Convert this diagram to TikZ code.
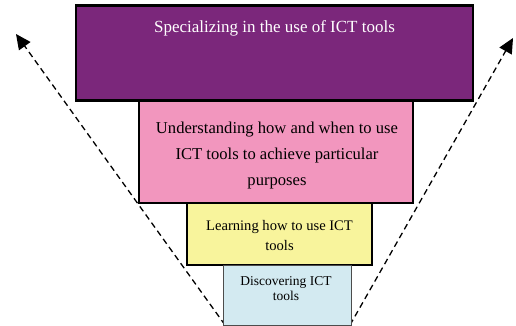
\documentclass[tikz,border=0pt]{standalone}
\usepackage{fontspec}
\setmainfont{Liberation Serif}
\usetikzlibrary{arrows.meta,positioning}

\definecolor{ictpurple}{HTML}{7B277B}
\definecolor{ictpink}{HTML}{F296BE}
\definecolor{ictyellow}{HTML}{F8F49C}
\definecolor{ictblue}{HTML}{D3EAF1}

\tikzset{
  level/.style={draw=black,line width=2.5pt,inner sep=0pt},
  leveltext/.style={align=center,inner sep=0pt},
  spread/.style={dashed,line width=1.3pt,dash pattern=on 6pt off 4pt,
    -{Triangle[length=15pt,width=14pt]}}
}

\begin{document}
\begin{tikzpicture}[x=1pt,y=-1pt]
    \useasboundingbox (0,0) rectangle (516,326);

    %% spreading arrows
    \coordinate (lb) at (225,325);
    \coordinate (lt) at (16,34);
    \coordinate (rb) at (350,325);
    \coordinate (rt) at (513,38);
    \draw[spread] (lb) -- (lt);
    \draw[spread] (rb) -- (rt);

    %% levels
    \node[level,fill=ictpurple,minimum width=397pt,minimum height=95pt] (spec) at (274.5,53) {};
    \node[leveltext,text=white,font=\fontsize{17}{20}\selectfont] (spectext) at (274.5,28)
        {Specializing in the use of ICT tools};
    \node[level,fill=ictpink,minimum width=274pt,minimum height=102pt] (under) at (276,152) {};
    \node[leveltext,font=\fontsize{16.6}{26}\selectfont] (undertext) at (277,156)
        {Understanding how and when to use\\ICT tools to achieve particular\\purposes};
    \node[level,fill=ictyellow,minimum width=185pt,minimum height=62pt] (learn) at (279.5,234) {};
    \node[leveltext,font=\fontsize{14.6}{20}\selectfont] (learntext) at (279.5,236)
        {Learning how to use ICT\\tools};
    \node[draw=black!70,line width=0.8pt,fill=ictblue,minimum width=128pt,minimum height=60pt] (disc) at (287,295) {};
    \node[leveltext,font=\fontsize{13.5}{15}\selectfont] (disctext) at (286,289)
        {Discovering ICT\\tools};
\end{tikzpicture}
\end{document}
